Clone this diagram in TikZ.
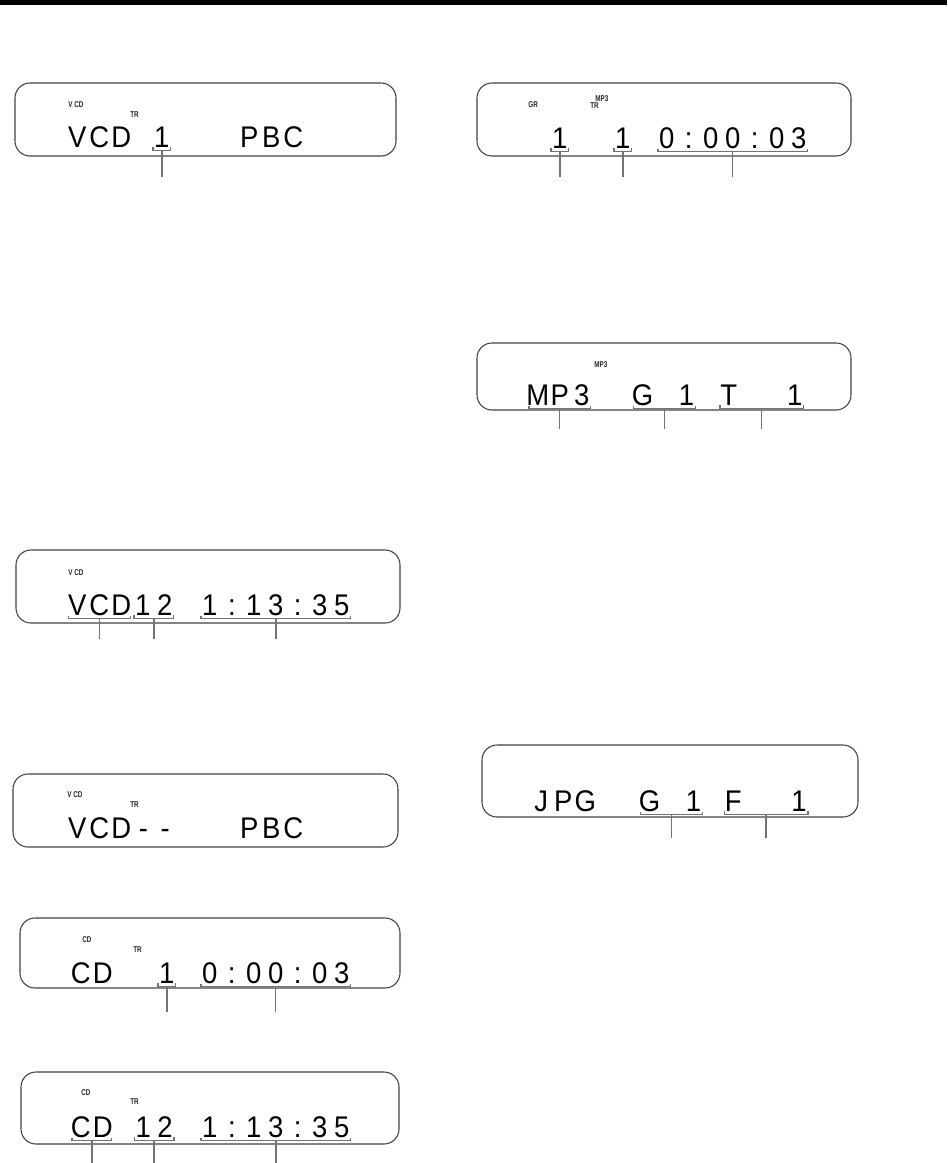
\documentclass[tikz,border=0pt]{standalone}
\usepackage{fontspec}
\usepackage{xcolor}
\newfontfamily\lcdfont[FakeStretch=0.92]{Liberation Sans}
\newfontfamily\lcdtagfont[FakeStretch=0.75]{Liberation Sans}
\definecolor{lcdline}{gray}{0.25}
\definecolor{lcdgray}{gray}{0.45}
\usetikzlibrary{positioning,calc}

% one fixed-width cell per character of the display
\newlength\lcdcell
\setlength\lcdcell{0.44cm}
\def\lcdloop#1{\ifx#1\relax\else\makebox[\lcdcell][c]{#1}\expandafter\lcdloop\fi}
\newcommand\lcd[1]{\lcdloop#1\relax}

% bracket under a group of cells, leader down to a coordinate
\newcommand\lcdbracket[2]{%
  \draw[brk] ([shift={(1.4pt,1.7pt)}]#1.south west) -- ([xshift=1.4pt]#1.south west)
    -- ([xshift=-1.4pt]#1.south east) -- ([shift={(-1.4pt,1.7pt)}]#1.south east);
  \draw[brk] (#1.south) -- (#2);}

\tikzset{
  panel/.style={draw=lcdline, line width=0.6pt, rounded corners=0.3cm},
  lcdtext/.style={font=\lcdfont\fontsize{17}{18}\selectfont, inner xsep=0pt, inner ysep=0.06cm, anchor=base west},
  lcdtag/.style={font=\lcdtagfont\bfseries\fontsize{4.8}{5.5}\selectfont, text=black!85, inner sep=0pt, anchor=base west},
  brk/.style={draw=lcdgray, line width=0.8pt},
}

\begin{document}
\begin{tikzpicture}[x=0.02cm, y=-0.02cm]
  \useasboundingbox (0,0) rectangle (947,1163);

  % Top rule
  \fill[black] (0,0) rectangle (947,5);

  % VCD, PBC on
  \draw[panel] (15,83) rectangle (396,156);
  \node[lcdtag] (a-vcdtag) at (68,107) {V CD};
  \node[lcdtag] (a-trtag) at (130,117) {TR};
  \node[lcdtext] (a-disc) at (66,147) {\lcd{VCD}};
  \node[lcdtext] (a-track) at (150.5,147) {\lcd{1}};
  \node[lcdtext] (a-pbc) at (238,147) {\lcd{PBC}};
  \coordinate (a-track-end) at (a-track.south |- 0,177);
  \lcdbracket{a-track}{a-track-end}

  % MP3 playing
  \draw[panel] (477,83) rectangle (851,156);
  \node[lcdtag] (b-grtag) at (528,107) {GR};
  \node[lcdtag] (b-mp3tag) at (595,101) {MP3};
  \node[lcdtag] (b-trtag) at (590,108.5) {TR};
  \node[lcdtext] (b-group) at (548.5,148) {\lcd{1}};
  \node[lcdtext] (b-track) at (611.5,148) {\lcd{1}};
  \node[lcdtext] (b-time) at (655.4,148) {\lcd{0:00:03}};
  \coordinate (b-group-end) at (b-group.south |- 0,177);
  \coordinate (b-track-end) at (b-track.south |- 0,177);
  \coordinate (b-time-end) at (b-time.south |- 0,177);
  \lcdbracket{b-group}{b-group-end}
  \lcdbracket{b-track}{b-track-end}
  \lcdbracket{b-time}{b-time-end}

  % MP3 disc loaded
  \draw[panel] (477,343) rectangle (851,410);
  \node[lcdtag] (c-mp3tag) at (594,367) {MP3};
  \node[lcdtext] (c-type) at (526.4,405) {\lcd{MP3}};
  \node[lcdtext] (c-group) at (631.3,405) {\lcd{G~1}};
  \node[lcdtext] (c-track) at (717.4,405) {\lcd{T~~1}};
  \coordinate (c-type-end) at (c-type.south |- 0,429);
  \coordinate (c-group-end) at (c-group.south |- 0,429);
  \coordinate (c-track-end) at (c-track.south |- 0,429);
  \lcdbracket{c-type}{c-type-end}
  \lcdbracket{c-group}{c-group-end}
  \lcdbracket{c-track}{c-track-end}

  % VCD loaded
  \draw[panel] (16,550) rectangle (400,623);
  \node[lcdtag] (d-vcdtag) at (68,575) {V CD};
  \node[lcdtext] (d-disc) at (66,615) {\lcd{VCD}};
  \node[lcdtext] (d-track) at (131.5,615) {\lcd{12}};
  \node[lcdtext] (d-time) at (198.5,615) {\lcd{1:13:35}};
  \coordinate (d-disc-end) at (d-disc.south |- 0,639);
  \coordinate (d-track-end) at (d-track.south |- 0,639);
  \coordinate (d-time-end) at (d-time.south |- 0,639);
  \lcdbracket{d-disc}{d-disc-end}
  \lcdbracket{d-track}{d-track-end}
  \lcdbracket{d-time}{d-time-end}

  % JPEG disc loaded
  \draw[panel] (482,745) rectangle (858,817);
  \node[lcdtext] (e-type) at (530,811) {\lcd{JPG}};
  \node[lcdtext] (e-group) at (638.3,811) {\lcd{G~1}};
  \node[lcdtext] (e-file) at (721.8,811) {\lcd{F~~1}};
  \coordinate (e-group-end) at (e-group.south |- 0,838);
  \coordinate (e-file-end) at (e-file.south |- 0,838);
  \lcdbracket{e-group}{e-group-end}
  \lcdbracket{e-file}{e-file-end}

  % VCD, menu
  \draw[panel] (13,774) rectangle (398,847);
  \node[lcdtag] (f-vcdtag) at (67,797) {V CD};
  \node[lcdtag] (f-trtag) at (130,807) {TR};
  \node[lcdtext] (f-disc) at (66,838) {\lcd{VCD--}};
  \node[lcdtext] (f-pbc) at (238,838) {\lcd{PBC}};

  % CD playing
  \draw[panel] (20,918) rectangle (400,988);
  \node[lcdtag] (g-cdtag) at (82,942) {CD};
  \node[lcdtag] (g-trtag) at (133,952) {TR};
  \node[lcdtext] (g-disc) at (69.5,983) {\lcd{CD}};
  \node[lcdtext] (g-track) at (155.5,983) {\lcd{1}};
  \node[lcdtext] (g-time) at (198.4,983) {\lcd{0:00:03}};
  \coordinate (g-track-end) at (g-track.south |- 0,1012);
  \coordinate (g-time-end) at (g-time.south |- 0,1012);
  \lcdbracket{g-track}{g-track-end}
  \lcdbracket{g-time}{g-time-end}

  % CD loaded
  \draw[panel] (21,1072) rectangle (399,1144);
  \node[lcdtag] (h-cdtag) at (81,1095) {CD};
  \node[lcdtag] (h-trtag) at (130,1104) {TR};
  \node[lcdtext] (h-disc) at (69.5,1137) {\lcd{CD}};
  \node[lcdtext] (h-track) at (131.8,1137) {\lcd{12}};
  \node[lcdtext] (h-time) at (198.5,1137) {\lcd{1:13:35}};
  \coordinate (h-disc-end) at (h-disc.south |- 0,1163);
  \coordinate (h-track-end) at (h-track.south |- 0,1163);
  \coordinate (h-time-end) at (h-time.south |- 0,1163);
  \lcdbracket{h-disc}{h-disc-end}
  \lcdbracket{h-track}{h-track-end}
  \lcdbracket{h-time}{h-time-end}
\end{tikzpicture}
\end{document}
